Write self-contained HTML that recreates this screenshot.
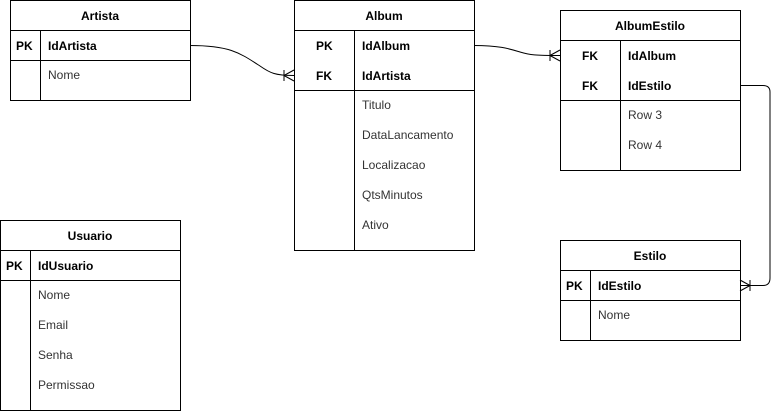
<!DOCTYPE html>
<html><head><style>body{margin:0;background:#fff}svg{display:block}text{font-family:"Liberation Sans",Arial,sans-serif;font-size:12px;fill:#000}</style></head><body>
<svg width="779" height="411" viewBox="0 0 779 411" xmlns="http://www.w3.org/2000/svg">
<g fill="none" stroke="#000" stroke-width="1">
<!-- Artista -->
<rect x="10.5" y="0.5" width="180" height="100"/>
<line x1="10" y1="30.5" x2="191" y2="30.5"/><line x1="10" y1="60.5" x2="191" y2="60.5"/>
<line x1="40.5" y1="30" x2="40.5" y2="100"/>
<!-- Album -->
<rect x="294.5" y="0.5" width="180" height="250"/>
<line x1="294" y1="30.5" x2="475" y2="30.5"/><line x1="294" y1="90.5" x2="475" y2="90.5"/>
<line x1="354.5" y1="30" x2="354.5" y2="250"/>
<!-- AlbumEstilo -->
<rect x="560.5" y="10.5" width="180" height="160"/>
<line x1="560" y1="40.5" x2="741" y2="40.5"/><line x1="560" y1="100.5" x2="741" y2="100.5"/>
<line x1="620.5" y1="40" x2="620.5" y2="170"/>
<!-- Usuario -->
<rect x="0.5" y="220.5" width="180" height="190"/>
<line x1="0" y1="250.5" x2="181" y2="250.5"/><line x1="0" y1="280.5" x2="181" y2="280.5"/>
<line x1="30.5" y1="250" x2="30.5" y2="410"/>
<!-- Estilo -->
<rect x="560.5" y="240.5" width="180" height="100"/>
<line x1="560" y1="270.5" x2="741" y2="270.5"/><line x1="560" y1="300.5" x2="741" y2="300.5"/>
<line x1="590.5" y1="270" x2="590.5" y2="340"/>
<!-- connectors -->
<path d="M190 45.5 C230 45.5 240 53 260 66 C270 73 275 75.5 294 75.5"/>
<path d="M284 70 v11 M284 75.5 L294 70 M284 75.5 L294 81"/>
<path d="M474 45.5 C500 45.5 510 49 520 52 C530 55 535 55.5 560 55.5"/>
<path d="M550 50 v11 M550 55.5 L560 50 M550 55.5 L560 61"/>
<path d="M740 85.5 H763 Q770 85.5 770 92 V278 Q770 285.5 763 285.5 H740"/>
<path d="M750 280 v11 M750 285.5 L740 280 M750 285.5 L740 291"/>
</g>
<g text-anchor="middle" font-weight="bold">
<text x="100" y="20" style="font-weight:bold">Artista</text>
<text x="384" y="20" style="font-weight:bold">Album</text>
<text x="650" y="30" style="font-weight:bold">AlbumEstilo</text>
<text x="90" y="240" style="font-weight:bold">Usuario</text>
<text x="650" y="260" style="font-weight:bold">Estilo</text>
</g>
<g style="font-weight:bold">
<text x="16" y="50" style="font-weight:bold">PK</text><text x="48" y="50" style="font-weight:bold">IdArtista</text>
<text x="316" y="50" style="font-weight:bold">PK</text><text x="362" y="50" style="font-weight:bold">IdAlbum</text>
<text x="316" y="80" style="font-weight:bold">FK</text><text x="362" y="80" style="font-weight:bold">IdArtista</text>
<text x="582" y="60" style="font-weight:bold">FK</text><text x="628" y="60" style="font-weight:bold">IdAlbum</text>
<text x="582" y="90" style="font-weight:bold">FK</text><text x="628" y="90" style="font-weight:bold">IdEstilo</text>
<text x="6" y="270" style="font-weight:bold">PK</text><text x="38" y="270" style="font-weight:bold">IdUsuario</text>
<text x="566" y="290" style="font-weight:bold">PK</text><text x="598" y="290" style="font-weight:bold">IdEstilo</text>
</g>
<g style="fill:#333">
<text x="48" y="79" style="fill:#333">Nome</text>
<text x="362" y="109" style="fill:#333">Titulo</text>
<text x="362" y="139" style="fill:#333">DataLancamento</text>
<text x="362" y="169" style="fill:#333">Localizacao</text>
<text x="362" y="199" style="fill:#333">QtsMinutos</text>
<text x="362" y="229" style="fill:#333">Ativo</text>
<text x="628" y="119" style="fill:#333">Row 3</text>
<text x="628" y="149" style="fill:#333">Row 4</text>
<text x="38" y="299" style="fill:#333">Nome</text>
<text x="38" y="329" style="fill:#333">Email</text>
<text x="38" y="359" style="fill:#333">Senha</text>
<text x="38" y="389" style="fill:#333">Permissao</text>
<text x="598" y="319" style="fill:#333">Nome</text>
</g>
</svg>
</body></html>
